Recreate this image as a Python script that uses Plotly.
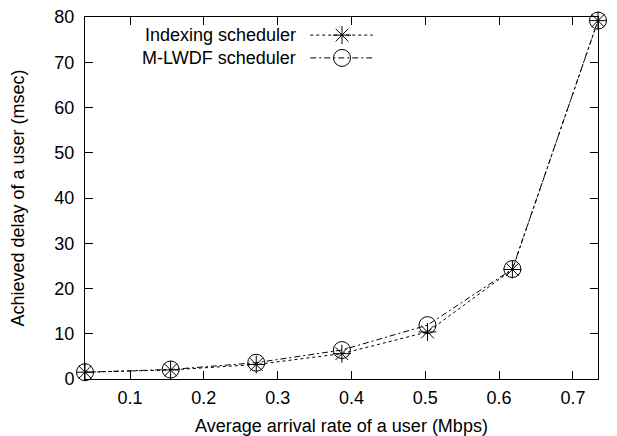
import plotly.graph_objects as go

rate = [0.039, 0.155, 0.271, 0.387, 0.503, 0.618, 0.734]
indexing_delay = [1.5, 2.0, 3.2, 5.6, 10.4, 24.2, 79.2]
mlwdf_delay = [1.5, 2.1, 3.6, 6.4, 11.9, 24.3, 79.2]
series_names = ["Indexing scheduler", "M-LWDF scheduler"]
x_ticks = [0.1, 0.2, 0.3, 0.4, 0.5, 0.6, 0.7]
y_ticks = [0, 10, 20, 30, 40, 50, 60, 70, 80]

FONT = "Liberation Sans, Arial, sans-serif"
FS = 18
dash_idx = "3px,3px"
dash_mlwdf = "6px,3px,2px,3px"

fig = go.Figure()
fig.add_trace(go.Scatter(
    x=rate, y=indexing_delay, mode="lines+markers", name=series_names[0],
    line=dict(color="black", width=1, dash=dash_idx),
    marker=dict(symbol="asterisk-open", size=15, color="black", line=dict(color="black", width=1)),
    showlegend=False, cliponaxis=False))
fig.add_trace(go.Scatter(
    x=rate, y=mlwdf_delay, mode="lines+markers", name=series_names[1],
    line=dict(color="black", width=1, dash=dash_mlwdf),
    marker=dict(symbol="circle-open", size=17, color="black", line=dict(color="black", width=1)),
    showlegend=False, cliponaxis=False))

# custom legend (text right-aligned, sample on the right, like gnuplot)
leg_rows = [0.95, 0.887]
for name, yy, dash, sym, sz in zip(series_names, leg_rows, [dash_idx, dash_mlwdf],
                                   ["asterisk-open", "circle-open"], [15, 17]):
    fig.add_annotation(x=0.415, y=yy, xref="paper", yref="paper", text=name,
                       showarrow=False, xanchor="right", yanchor="middle",
                       font=dict(family=FONT, size=FS, color="black"))
    fig.add_shape(type="line", xref="paper", yref="paper", x0=0.439, x1=0.561, y0=yy, y1=yy,
                  line=dict(color="black", width=1, dash=dash))
    fig.add_trace(go.Scatter(x=[0.501], y=[yy], xaxis="x2", yaxis="y2", mode="markers",
                             marker=dict(symbol=sym, size=sz, color="black",
                                         line=dict(color="black", width=1)),
                             showlegend=False, hoverinfo="skip", cliponaxis=False))

axis_common = dict(showgrid=False, zeroline=False, showline=True, linecolor="black", linewidth=1,
                   mirror="ticks", ticks="inside", ticklen=8, tickcolor="black", tickwidth=1,
                   automargin=False, ticklabeloverflow="allow",
                   tickfont=dict(family=FONT, size=FS, color="black"))

# page body has an 8px default margin, so the figure is sized to fit the window
fig.update_layout(
    width=609, height=428,
    margin=dict(l=77, r=19, t=9, b=57),
    paper_bgcolor="white", plot_bgcolor="white",
    font=dict(family=FONT, size=FS, color="black"),
    xaxis=dict(range=[0.039, 0.734], tickvals=x_ticks, ticktext=[str(v) for v in x_ticks],
               title=dict(text="Average arrival rate of a user (Mbps)", standoff=14,
                          font=dict(family=FONT, size=FS)),
               ticklabelstandoff=2, **axis_common),
    yaxis=dict(range=[0, 80], tickvals=y_ticks,
               title=dict(text="Achieved delay of a user (msec)", standoff=31,
                          font=dict(family=FONT, size=FS)),
               ticklabelstandoff=6, **axis_common),
    xaxis2=dict(range=[0, 1], overlaying="x", visible=False, anchor="y2"),
    yaxis2=dict(range=[0, 1], overlaying="y", visible=False, anchor="x2"),
)

fig.write_html("out.html")
